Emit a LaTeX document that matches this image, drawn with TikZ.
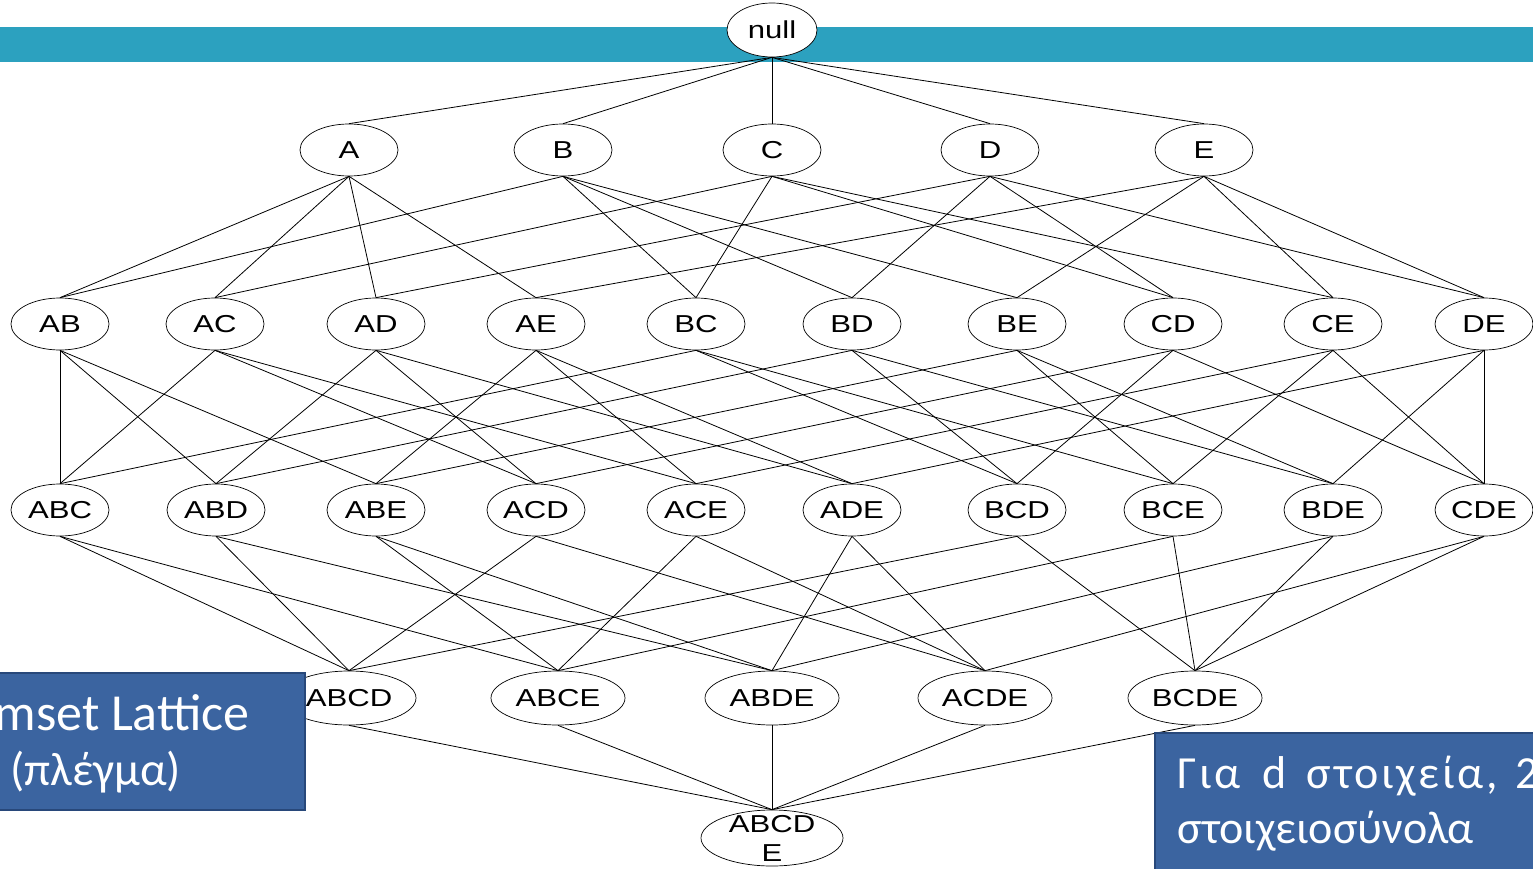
\documentclass[tikz,border=0pt]{standalone}
\usepackage{fontspec}
\usetikzlibrary{shapes.geometric}
\newfontfamily\nodefont[FakeStretch=1.27]{Liberation Sans}
\newfontfamily\boxfont{Carlito}
\newfontfamily\spacedfont[LetterSpace=6]{Carlito}
\definecolor{bandteal}{RGB}{44,161,191}
\definecolor{boxblue}{RGB}{59,100,160}
\definecolor{boxedge}{RGB}{40,72,122}

\begin{document}
\begin{tikzpicture}[x=1pt,y=-1pt,
  set/.style={ellipse,draw=black,line width=0.7pt,fill=white,inner sep=0pt,
    minimum width=98pt,minimum height=52pt,
    font=\nodefont\fontsize{24.5}{29}\selectfont},
  wide/.style={set,minimum width=134pt,minimum height=54pt},
  link/.style={line width=0.8pt},
  infobox/.style={draw=boxedge,line width=2.5pt,fill=boxblue},
  boxtext/.style={text=white,inner sep=0pt,font=\boxfont\fontsize{52}{60}\selectfont},
  notetext/.style={text=white,inner sep=0pt,font=\boxfont\fontsize{46}{55}\selectfont}]

\useasboundingbox (0,0) rectangle (1533,869);
\clip (0,0) rectangle (1533,869);

% header band
\fill[bandteal] (0,27) rectangle (1533,62);

% empty set
\node[set,minimum width=90pt,minimum height=54pt] (nul) at (772,30) {null};

% 1-itemsets
\foreach \n/\x in {A/349,B/563,C/772,D/990,E/1204}
  \node[set] (\n) at (\x,150) {\n};

% 2-itemsets
\foreach \n/\x in {AB/60,AC/215,AD/376,AE/536,BC/696,BD/852,BE/1017,CD/1173,CE/1333,DE/1484}
  \node[set] (\n) at (\x,324) {\n};

% 3-itemsets
\foreach \n/\x in {ABC/60,ABD/216,ABE/376,ACD/536,ACE/696,ADE/852,BCD/1017,BCE/1173,BDE/1333,CDE/1484}
  \node[set] (\n) at (\x,510) {\n};

% 4-itemsets
\foreach \n/\x in {ABCD/349,ABCE/558,ABDE/772,ACDE/985,BCDE/1195}
  \node[wide] (\n) at (\x,698) {\n};

% full itemset
\node[wide,minimum width=142pt,minimum height=56pt] (ABCDE) at (772,838) {};
\node[align=center,inner sep=0pt,font=\nodefont\fontsize{24.5}{29}\selectfont] (ABCDEtxt) at (ABCDE) {ABCD\\E};

% lattice edges: each itemset to its immediate supersets
\foreach \c in {A,B,C,D,E}
  \draw[link] (nul.south) -- (\c.north);
\foreach \c/\ps in {AB/{A,B},AC/{A,C},AD/{A,D},AE/{A,E},BC/{B,C},BD/{B,D},BE/{B,E},CD/{C,D},CE/{C,E},DE/{D,E}}
  \foreach \p in \ps
    \draw[link] (\p.south) -- (\c.north);
\foreach \c/\ps in {ABC/{AB,AC,BC},ABD/{AB,AD,BD},ABE/{AB,AE,BE},ACD/{AC,AD,CD},ACE/{AC,AE,CE},
                    ADE/{AD,AE,DE},BCD/{BC,BD,CD},BCE/{BC,BE,CE},BDE/{BD,BE,DE},CDE/{CD,CE,DE}}
  \foreach \p in \ps
    \draw[link] (\p.south) -- (\c.north);
\foreach \c/\ps in {ABCD/{ABC,ABD,ACD,BCD},ABCE/{ABC,ABE,ACE,BCE},ABDE/{ABD,ABE,ADE,BDE},
                    ACDE/{ACD,ACE,ADE,CDE},BCDE/{BCD,BCE,BDE,CDE}}
  \foreach \p in \ps
    \draw[link] (\p.south) -- (\c.north);
\foreach \p in {ABCD,ABCE,ABDE,ACDE,BCDE}
  \draw[link] (\p.south) -- (ABCDE.north);

% caption boxes
\draw[infobox] (-120,673) rectangle (305,810);
\node[boxtext,anchor=base east] (cap1) at (250,730) {Itemset Lattice};
\node[boxtext,anchor=base west,font=\boxfont\fontsize{47}{56}\selectfont] (cap2) at (10,785) {(πλέγμα)};

\draw[infobox] (1155,733) rectangle (1620,920);
\node[notetext,anchor=base west,font=\spacedfont\fontsize{46}{55}\selectfont] (note1) at (1177,788)
  {Για\hspace*{22pt}d\hspace*{20pt}στοιχεία,\hspace*{18pt}2\textsuperscript{d}};
\node[notetext,anchor=base west] (note2) at (1177,843) {στοιχειοσύνολα};
\end{tikzpicture}
\end{document}
